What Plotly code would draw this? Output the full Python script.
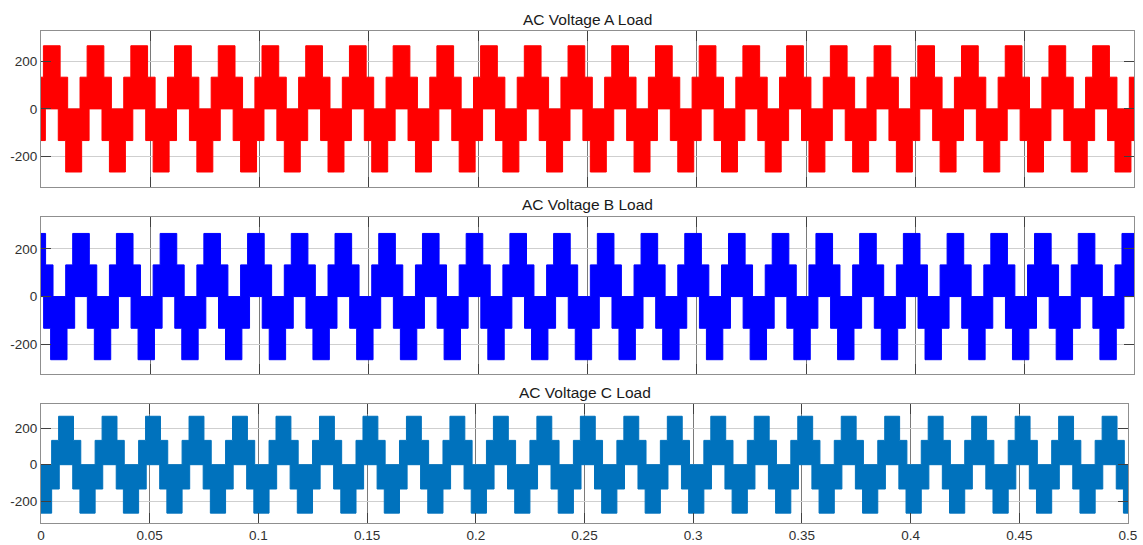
import numpy as np
import plotly.graph_objects as go

# ---- simulation window -------------------------------------------------
t_stop = 0.5          # s
period_ms = 20.0      # fundamental period of the load voltage

# Inverter output levels (V)
level_1 = 133
level_2 = 265

# Switching envelopes of one fundamental cycle for each phase.
# *_up_t / *_lo_t : instants (ms into the cycle) where the envelope steps
# *_up_v / *_lo_v : envelope level that holds from that instant onwards
a_up_t = [1.1, 8.75, 12.2, 17.85]
a_up_v = [level_2, level_1, 0, level_1]
a_lo_t = [2.0, 7.9, 11.3, 18.6]
a_lo_v = [0, -level_1, -level_2, -level_1]

b_up_t = [2.1, 5.5, 11.3, 14.5]
b_up_v = [level_1, 0, level_1, level_2]
b_lo_t = [1.2, 4.4, 11.9, 15.4]
b_lo_v = [-level_1, -level_2, -level_1, 0]

c_up_t = [4.9, 8.1, 14.95, 18.3]
c_up_v = [level_1, level_2, level_1, 0]
c_lo_t = [4.9, 8.4, 14.6, 17.9]
c_lo_v = [-level_1, 0, -level_1, -level_2]

titles = ["AC Voltage A Load", "AC Voltage B Load", "AC Voltage C Load"]
colors = ["#ff0000", "#0000ff", "#0072bd"]
y_ranges = [[-328, 327], [-325, 334], [-319, 332]]

x_ticks = [0, 0.05, 0.1, 0.15, 0.2, 0.25, 0.3, 0.35, 0.4, 0.45, 0.5]
x_tick_text = ["0", "0.05", "0.1", "0.15", "0.2", "0.25", "0.3", "0.35", "0.4", "0.45", "0.5"]
y_ticks = [-200, 0, 200]
y_tick_text = ["-200", "0", "200"]


def step_envelope(edges_ms, values):
    """Repeat one cycle of step edges over the whole run and return the
    staircase outline (x in seconds, y in volts)."""
    n_cycles = int(np.ceil(t_stop * 1000 / period_ms)) + 2
    times, vals = [], []
    for k in range(-1, n_cycles):
        for e, v in zip(edges_ms, values):
            times.append((k * period_ms + e) / 1000.0)
            vals.append(v)
    order = np.argsort(times)
    times = np.array(times)[order]
    vals = np.array(vals)[order]
    # level that holds at t = 0
    v0 = vals[times <= 0][-1]
    xs, ys = [0.0], [v0]
    cur = v0
    for t, v in zip(times, vals):
        if t <= 0 or t >= t_stop:
            continue
        xs += [t, t]
        ys += [cur, v]
        cur = v
    xs.append(t_stop)
    ys.append(cur)
    return xs, ys


phases = [
    (a_up_t, a_up_v, a_lo_t, a_lo_v),
    (b_up_t, b_up_v, b_lo_t, b_lo_v),
    (c_up_t, c_up_v, c_lo_t, c_lo_v),
]

fig = go.Figure()

W, H = 1143, 545
x_domains = [[41 / W, 1134 / W], [41 / W, 1134 / W], [41 / W, 1128 / W]]
y_domains = [
    [1 - 187 / H, 1 - 31 / H],
    [1 - 374 / H, 1 - 217 / H],
    [1 - 523 / H, 1 - 404 / H],
]
title_y = [19.0, 205.0, 392.0]

for i, (ut, uv, lt, lv) in enumerate(phases):
    ux, uy = step_envelope(ut, uv)
    lx, ly = step_envelope(lt, lv)
    px = ux + lx[::-1] + [ux[0]]
    py = uy + ly[::-1] + [uy[0]]
    suffix = "" if i == 0 else str(i + 1)
    fig.add_trace(go.Scatter(
        x=px, y=py, mode="lines", fill="toself",
        fillcolor=colors[i], line=dict(color=colors[i], width=1),
        xaxis="x" + suffix, yaxis="y" + suffix, showlegend=False,
        hoverinfo="skip",
    ))

    common_axis = dict(
        showline=True, linecolor="#8f8f8f", linewidth=1, mirror="ticks",
        ticks="inside", ticklen=10, tickcolor="#404040", tickwidth=1,
        zeroline=False, automargin=False,
        tickfont=dict(family="Liberation Sans, Arial, sans-serif", size=13.5, color="#303030"),
    )
    fig.layout["xaxis" + suffix] = dict(
        common_axis, domain=x_domains[i], range=[0, t_stop],
        anchor="y" + suffix, tickvals=x_ticks, ticktext=x_tick_text,
        showticklabels=(i == 2), showgrid=True, gridcolor="#7a7a7a",
        gridwidth=1,
    )
    fig.layout["yaxis" + suffix] = dict(
        common_axis, domain=y_domains[i], range=y_ranges[i],
        anchor="x" + suffix, tickvals=y_ticks, ticktext=y_tick_text,
        showgrid=True, gridcolor="#cfcfcf", gridwidth=1,
    )
    fig.add_annotation(
        text=titles[i], xref="paper", yref="paper",
        x=(x_domains[i][0] + x_domains[i][1]) / 2, y=1 - title_y[i] / H,
        xanchor="center", yanchor="middle", showarrow=False,
        font=dict(family="Liberation Sans, Arial, sans-serif", size=15.5, color="#1a1a1a"),
    )

fig.update_layout(
    width=W, height=H,
    margin=dict(l=0, r=0, t=0, b=0),
    paper_bgcolor="white", plot_bgcolor="white",
)

fig.write_html("out.html")
